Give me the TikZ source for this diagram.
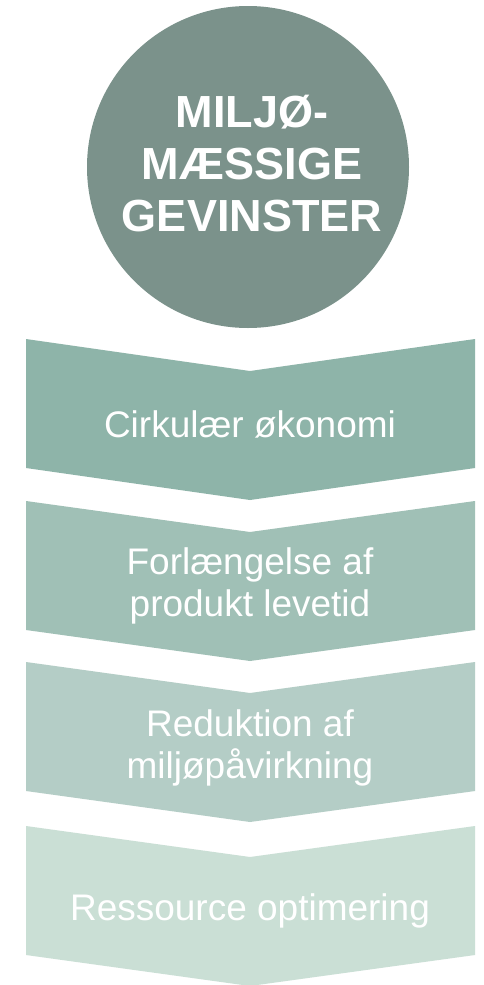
\documentclass[tikz,border=0pt]{standalone}
\usepackage{fontspec}
\setmainfont{Liberation Sans}
\definecolor{circlec}{HTML}{7B928B}
\definecolor{chevA}{HTML}{8EB4A9}
\definecolor{chevB}{HTML}{A0C0B6}
\definecolor{chevC}{HTML}{B4CDC6}
\definecolor{chevD}{HTML}{CADFD5}
\tikzset{
  chevtext/.style={text=white, align=center, inner sep=0pt, font=\fontsize{37}{42}\selectfont},
  titletext/.style={text=white, align=center, inner sep=0pt, font=\fontsize{45}{52}\selectfont\bfseries},
}
\newcommand{\chevron}[4]{%
  % #1 color, #2 top corner y, #3 notch depth, #4 side height
  \fill[#1] (26,#2) -- (250,{#2+#3}) -- (475,#2) -- (475,{#2+#4}) -- (250,{#2+#4+#3}) -- (26,{#2+#4}) -- cycle;
}
\begin{document}
\begin{tikzpicture}[x=1pt,y=-1pt]
  \useasboundingbox (0,0) rectangle (483,985);
  \fill[white] (0,0) rectangle (483,985);
  % circle
  \node[circle, fill=circlec, minimum size=322pt, inner sep=0pt] (circ) at (248,167) {};
  \node[titletext] (title) at (252,164) {MILJØ-\\MÆSSIGE\\GEVINSTER};
  % chevrons
  \chevron{chevA}{339}{32}{129}
  \chevron{chevB}{501}{31}{129}
  \chevron{chevC}{662}{31}{129}
  \chevron{chevD}{826}{31}{129}
  \node[chevtext] (t1) at (250,424) {Cirkulær økonomi};
  \node[chevtext] (t2) at (250,586) {Forlængelse af\\produkt levetid};
  \node[chevtext] (t3) at (250,748) {Reduktion af\\miljøpåvirkning};
  \node[chevtext] (t4) at (250,911) {Ressource optimering};
\end{tikzpicture}
\end{document}
